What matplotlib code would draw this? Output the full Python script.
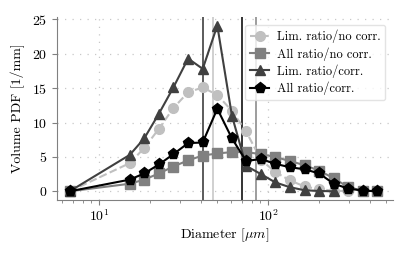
import numpy as np
import matplotlib
matplotlib.use('Agg')
import matplotlib.pyplot as plt

plt.rcParams['font.family'] = 'serif'
plt.rcParams['font.serif'] = ['cmr10']
plt.rcParams['mathtext.fontset'] = 'cm'
plt.rcParams['axes.formatter.use_mathtext'] = True
plt.rcParams['font.size'] = 10

# data
diameter = np.array([6.7, 15.2, 18.5, 22.6, 27.5, 33.6, 41, 50, 61, 74, 90.5,
                     110, 134, 164, 200, 244, 297, 362, 441])
lim_nocorr = np.array([0, 4.1, 6.3, 9.1, 12.1, 14.4, 15.1, 14.0, 11.7, 8.7, 4.6,
                       2.8, 1.6, 0.7, 0.3, 0.1, 0.0])
all_nocorr = np.array([0, 1.1, 1.7, 2.6, 3.6, 4.5, 5.2, 5.5, 5.7, 5.7, 5.4,
                       5.0, 4.4, 3.8, 3.0, 1.9, 0.6, 0.1, 0.0])
lim_corr = np.array([0, 5.3, 7.7, 11.3, 15.1, 19.3, 17.8, 24.1, 11.0, 3.7, 2.5,
                     1.3, 0.6, 0.15, 0.05, 0.0])
all_corr = np.array([0, 1.7, 2.6, 3.9, 5.4, 7.0, 7.1, 12.0, 7.7, 4.4, 4.7,
                     4.0, 3.5, 3.2, 2.6, 1.1, 0.4, 0.1, 0.0])

# characteristic diameters (vertical lines)
d_lim_corr = 41
d_lim_nocorr = 47.4
d_all_corr = 70
d_all_nocorr = 85

fig = plt.figure(figsize=(4.11, 2.54), dpi=100)
ax = fig.add_axes([0.139, 0.213, 0.817, 0.719])

ax.axvline(d_lim_corr, color='#404040', lw=1.2)
ax.axvline(d_lim_nocorr, color='#c8c8c8', lw=1.2)
ax.axvline(d_all_corr, color='#111111', lw=1.2)
ax.axvline(d_all_nocorr, color='#8c8c8c', lw=1.2)

ax.plot(diameter[:len(lim_nocorr)], lim_nocorr, '--o', color='#c0c0c0', lw=1.5, ms=7,
        label='Lim. ratio/no corr.')
ax.plot(diameter[:len(all_nocorr)], all_nocorr, '-s', color='#808080', lw=1.5, ms=7,
        label='All ratio/no corr.')
ax.plot(diameter[:len(lim_corr)], lim_corr, '-^', color='#404040', lw=1.5, ms=7,
        label='Lim. ratio/corr.')
ax.plot(diameter[:len(all_corr)], all_corr, '-p', color='black', lw=1.5, ms=8,
        label='All ratio/corr.')

ax.set_xscale('log')
ax.set_xlim(5.65, 546)
ax.set_ylim(-1.25, 25.3)
ax.set_yticks([0, 5, 10, 15, 20, 25])

ax.grid(True, which='major', linestyle=(0, (1, 5)), color='#c8c8c8', lw=0.9)
for s in ['top', 'right']:
    ax.spines[s].set_visible(False)
for s in ['left', 'bottom']:
    ax.spines[s].set_color('#808080')
ax.tick_params(which='both', colors='#808080', labelcolor='black', direction='out')
ax.tick_params(axis='x', which='major', pad=2.5)

ax.set_xlabel(r'Diameter [$\mu m$]', labelpad=2)
ax.set_ylabel('Volume PDF [1/mm]', labelpad=5)

leg = ax.legend(loc='upper right', fancybox=True, edgecolor='#dddddd', fontsize=9,
                borderpad=0.4, handlelength=1.5, handletextpad=0.6,
                labelspacing=0.3, borderaxespad=0.6)

fig.savefig('out.png', dpi=100)
